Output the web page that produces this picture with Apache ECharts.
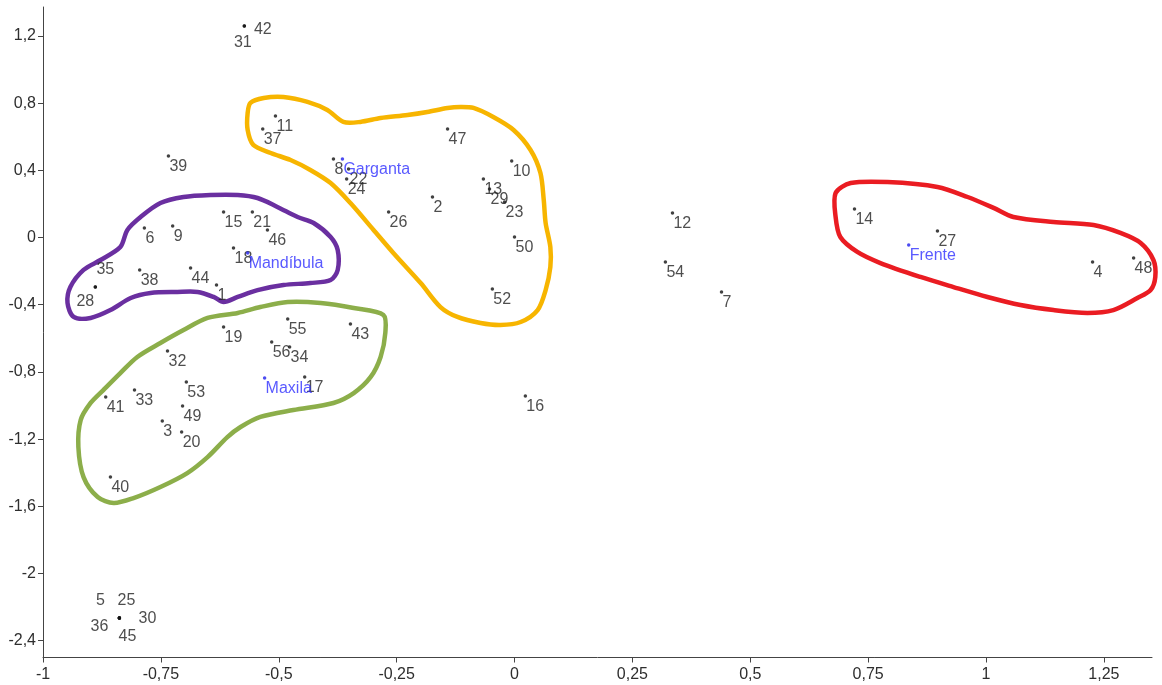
<!DOCTYPE html>
<html>
<head>
<meta charset="utf-8">
<script src="https://cdn.jsdelivr.net/npm/echarts@6/dist/echarts.min.js"></script>
<style>
  html, body { margin: 0; padding: 0; background: #ffffff; }
  #chart { width: 1162px; height: 685px; }
</style>
</head>
<body>
<div id="chart"></div>
<script>
// Sample scores on the two retained dimensions
const pointIds = ['1','2','3','4','5','6','7','8','9','10','11','12','13','14','15','16','17','18','19','20',
  '21','22','23','24','25','26','27','28','29','30','31','32','33','34','35','36','37','38','39','40',
  '41','42','43','44','45','46','47','48','49','50','52','53','54','55','56'];
const pointX = [-0.632,-0.174,-0.747,1.226,-0.838,-0.785,0.439,-0.384,-0.725,-0.006,-0.507,0.335,-0.066,0.721,-0.617,0.023,-0.445,-0.596,-0.617,-0.706,
  -0.556,-0.352,-0.021,-0.356,-0.838,-0.267,0.897,-0.889,-0.053,-0.838,-0.573,-0.736,-0.806,-0.477,-0.889,-0.838,-0.534,-0.795,-0.734,-0.857,
  -0.867,-0.573,-0.348,-0.687,-0.838,-0.524,-0.142,1.313,-0.704,0.000,-0.047,-0.696,0.320,-0.481,-0.515];
const pointY = [-0.283,0.241,-1.092,-0.146,-2.265,0.057,-0.324,0.467,0.068,0.455,0.723,0.146,0.348,0.170,0.152,-0.943,-0.830,-0.063,-0.533,-1.158,
  0.152,0.408,0.211,0.348,-2.265,0.152,0.039,-0.295,0.289,-2.265,1.259,-0.676,-0.908,-0.652,-0.295,-2.265,0.646,-0.193,0.485,-1.426,
  -0.949,1.259,-0.515,-0.182,-2.265,0.045,0.646,-0.122,-1.003,0.003,-0.307,-0.860,-0.146,-0.485,-0.622];

// Group centres
const groupNames = ['Garganta', 'Mandíbula', 'Maxila', 'Frente'];
const groupX = [-0.365, -0.566, -0.530, 0.836];
const groupY = [0.467, -0.092, -0.836, -0.045];

// Axis tick values
const xTicks = [-1, -0.75, -0.5, -0.25, 0, 0.25, 0.5, 0.75, 1, 1.25];
const yTicks = [-2.4, -2, -1.6, -1.2, -0.8, -0.4, 0, 0.4, 0.8, 1.2];

// Hand-drawn group outlines, in data units
const gargantaOutline = [[-0.560,0.801],[-0.532,0.830],[-0.490,0.836],[-0.439,0.807],[-0.397,0.759],[-0.363,0.688],[-0.327,0.688],
  [-0.284,0.711],[-0.227,0.729],[-0.185,0.747],[-0.142,0.771],[-0.115,0.777],[-0.087,0.771],[-0.045,0.717],[-0.002,0.640],
  [0.034,0.521],[0.055,0.384],[0.062,0.223],[0.066,0.086],[0.076,-0.057],[0.076,-0.176],[0.066,-0.313],[0.049,-0.432],
  [0.013,-0.503],[-0.030,-0.521],[-0.072,-0.509],[-0.121,-0.473],[-0.157,-0.414],[-0.199,-0.271],[-0.257,-0.092],
  [-0.299,0.045],[-0.348,0.205],[-0.390,0.324],[-0.433,0.402],[-0.475,0.461],[-0.517,0.503],[-0.554,0.551],[-0.566,0.640],[-0.566,0.741]];
const mandibulaOutline = [[-0.751,0.205],[-0.702,0.241],[-0.645,0.253],[-0.587,0.253],[-0.545,0.235],[-0.503,0.182],[-0.460,0.122],
  [-0.426,0.086],[-0.390,0.003],[-0.375,-0.074],[-0.375,-0.193],[-0.390,-0.253],[-0.433,-0.271],[-0.490,-0.283],[-0.545,-0.313],
  [-0.587,-0.354],[-0.617,-0.384],[-0.638,-0.354],[-0.672,-0.324],[-0.715,-0.324],[-0.772,-0.330],[-0.814,-0.360],[-0.857,-0.432],
  [-0.899,-0.479],[-0.935,-0.473],[-0.948,-0.390],[-0.942,-0.295],[-0.914,-0.193],[-0.878,-0.134],[-0.836,-0.057],[-0.821,0.045],[-0.793,0.122]];
const maxilaOutline = [[-0.278,-0.461],[-0.274,-0.568],[-0.284,-0.711],[-0.305,-0.830],[-0.341,-0.926],[-0.384,-0.985],[-0.469,-1.027],
  [-0.539,-1.068],[-0.581,-1.128],[-0.609,-1.188],[-0.651,-1.307],[-0.694,-1.402],[-0.751,-1.485],[-0.808,-1.551],[-0.850,-1.580],
  [-0.884,-1.545],[-0.914,-1.426],[-0.925,-1.247],[-0.920,-1.086],[-0.899,-0.985],[-0.872,-0.908],[-0.836,-0.807],[-0.800,-0.711],
  [-0.751,-0.628],[-0.702,-0.551],[-0.651,-0.479],[-0.587,-0.449],[-0.539,-0.414],[-0.481,-0.384],[-0.411,-0.390],[-0.341,-0.420]];
const frenteOutline = [[0.681,0.265],[0.713,0.324],[0.791,0.330],[0.897,0.301],[0.961,0.241],[1.016,0.176],[1.058,0.122],[1.143,0.092],
  [1.228,0.074],[1.285,0.027],[1.328,-0.033],[1.355,-0.134],[1.359,-0.235],[1.349,-0.313],[1.321,-0.360],[1.270,-0.432],[1.215,-0.449],
  [1.143,-0.432],[1.073,-0.402],[1.003,-0.354],[0.931,-0.295],[0.861,-0.235],[0.776,-0.152],[0.727,-0.086],[0.691,0.003],[0.681,0.122]];

// Label placement for coincident points (offset of the label centre from the dot, px)
const stackedLabels = {
  '31': [-1.5, 17], '42': [18.5, 4],
  '35': [10, -17], '28': [-10, 15],
  '5': [-19, -17], '25': [7, -17], '30': [28, 1], '36': [-20, 9], '45': [8, 19]
};

const FONT = '"Liberation Sans", Arial, sans-serif';
const BLUE = '#3030ff';
const fmt = v => String(Math.round(v * 100) / 100).replace('.', ',');

const pointData = pointIds.map((id, i) => {
  const item = { name: id, value: [pointX[i], pointY[i]] };
  if (stackedLabels[id]) {
    item.label = { align: 'center', offset: stackedLabels[id] };
  }
  return item;
});
const groupData = groupNames.map((n, i) => ({ name: n, value: [groupX[i], groupY[i]] }));

function outlineSeries(points, color) {
  return {
    type: 'custom',
    silent: true,
    z: 1,
    clip: false,
    data: [points[0]],
    renderItem: (params, api) => ({
      type: 'polygon',
      shape: { points: points.map(p => api.coord(p)), smooth: 0.3 },
      style: { fill: 'none', stroke: color, lineWidth: 4.5, lineJoin: 'round' }
    })
  };
}

const chart = echarts.init(document.getElementById('chart'), null, { renderer: 'canvas' });
chart.setOption({
  animation: false,
  backgroundColor: '#ffffff',
  grid: { left: 43, right: 10, top: 7, bottom: 27.5, containLabel: false, outerBoundsMode: 'none' },
  xAxis: {
    type: 'value', min: -1, max: 1.352,
    splitLine: { show: false },
    axisLine: { show: true, onZero: false, lineStyle: { color: '#444', width: 1 } },
    axisTick: { show: true, length: 5, customValues: xTicks, lineStyle: { color: '#444' } },
    axisLabel: { customValues: xTicks, formatter: fmt, fontSize: 16, color: '#2e2e2e', margin: 9, fontFamily: FONT }
  },
  yAxis: {
    type: 'value', min: -2.5, max: 1.372,
    splitLine: { show: false },
    axisLine: { show: true, onZero: false, lineStyle: { color: '#444', width: 1 } },
    axisTick: { show: true, length: 5, customValues: yTicks, lineStyle: { color: '#444' } },
    axisLabel: { customValues: yTicks, formatter: fmt, fontSize: 16, color: '#2e2e2e', margin: 7, fontFamily: FONT }
  },
  series: [
    outlineSeries(mandibulaOutline, '#6a2fa0'),
    outlineSeries(gargantaOutline, '#f7b500'),
    outlineSeries(maxilaOutline, '#8cae4a'),
    outlineSeries(frenteOutline, '#ea1c22'),
    {
      type: 'scatter', z: 3, silent: true,
      symbol: 'circle', symbolSize: 3.5,
      itemStyle: { color: '#111' },
      data: pointData,
      label: {
        show: true, position: 'inside', formatter: '{b}',
        align: 'left', verticalAlign: 'middle', offset: [1, 11],
        fontSize: 16, color: '#222', fontFamily: FONT
      }
    },
    {
      type: 'scatter', z: 4, silent: true,
      symbol: 'circle', symbolSize: 3.5,
      itemStyle: { color: '#1f1fee' },
      data: groupData,
      label: {
        show: true, position: 'inside', formatter: '{b}',
        align: 'left', verticalAlign: 'middle', offset: [1, 11],
        fontSize: 16, color: BLUE, fontFamily: FONT
      }
    }
  ]
});
</script>
</body>
</html>
